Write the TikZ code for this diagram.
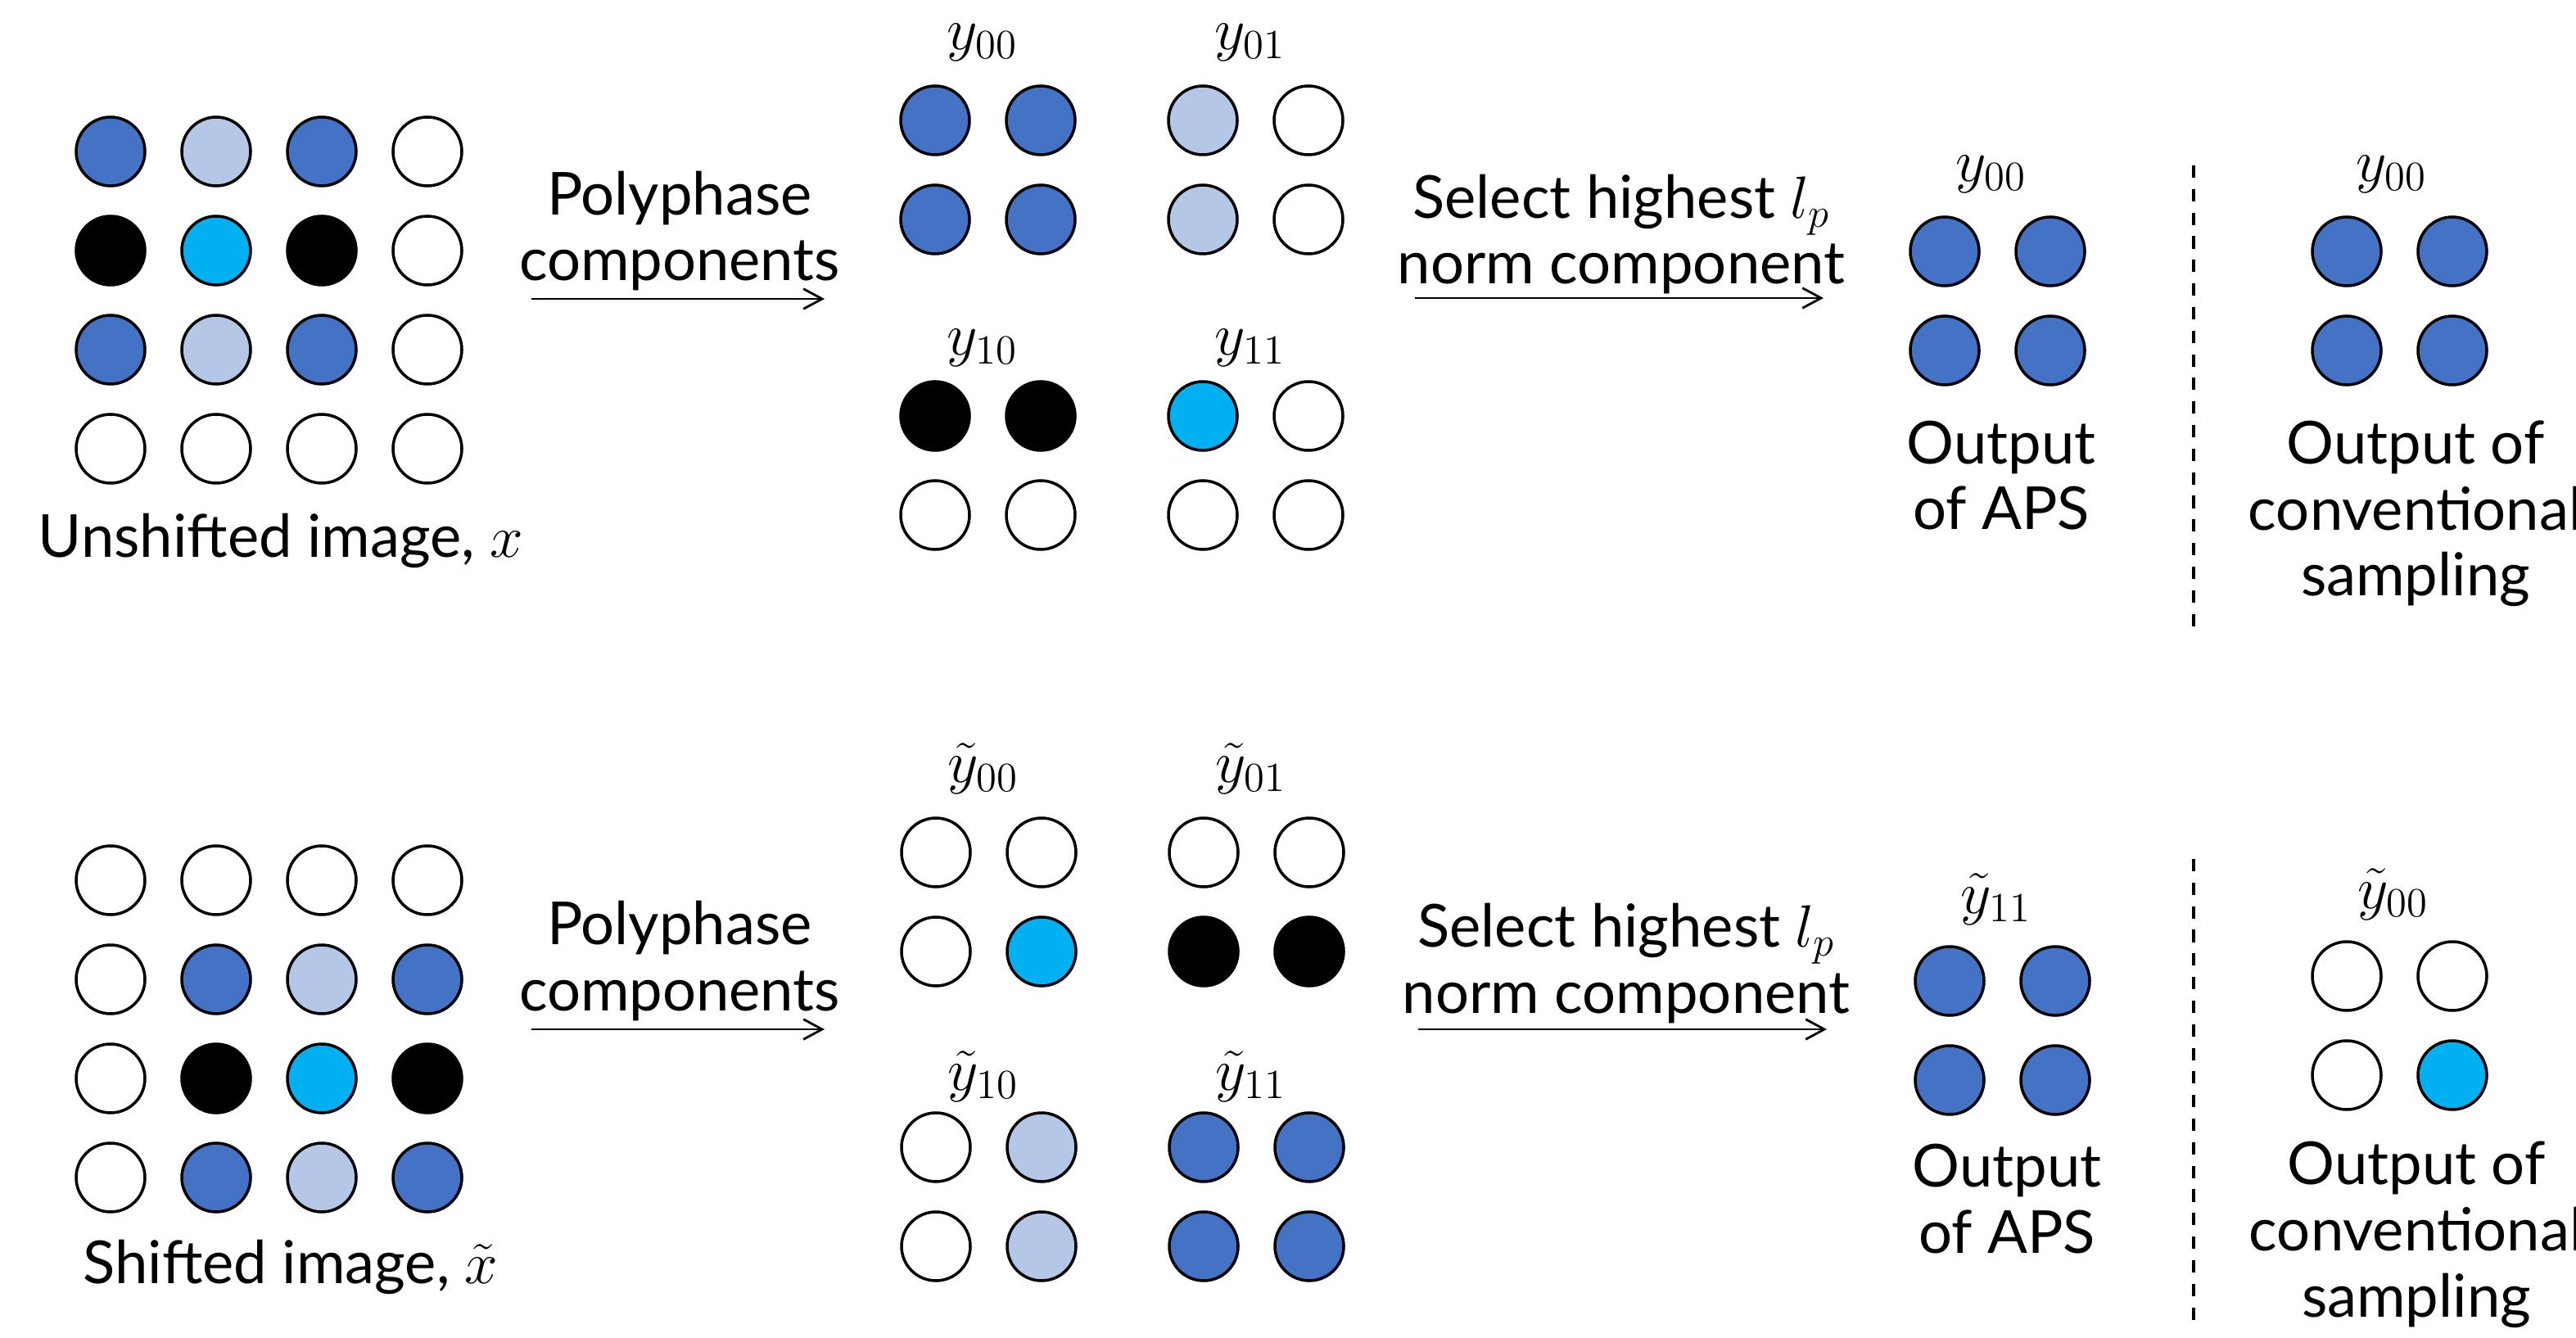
\documentclass[tikz,border=0pt]{standalone}
\usepackage{fontspec}
\setmainfont{Lato}
\usetikzlibrary{arrows.meta}
\definecolor{apsdark}{HTML}{4472C4}
\definecolor{apslight}{HTML}{B4C7E7}
\definecolor{apscyan}{HTML}{00B0F0}
\newcommand\cellW{1.29}
\newcommand\cellH{1.21}
\newcommand\dotSize{0.84}
\newcommand\sepX{26.79}

%% one grid of dots, filled row by row
\newcommand\dotGrid[5]{%
  \foreach \c [count=\i from 0] in {#5}{
    \pgfmathtruncatemacro\r{div(\i,#4)}
    \pgfmathtruncatemacro\k{mod(\i,#4)}
    \node[dot, fill=\c] (#1-\r-\k) at (#2+\k*\cellW, #3-\r*\cellH) {};
  }
}

\tikzset{
  dot/.style={circle, draw=black, line width=1pt, minimum size=\dotSize cm, inner sep=0pt},
  lbl/.style={font=\fontsize{20.6}{23}\selectfont, anchor=base, align=center, inner sep=0pt},
  sym/.style={lbl, font=\fontsize{22.5}{25}\selectfont},
  flow/.style={line width=0.8pt, -{Straight Barb[length=6.5pt,width=7pt]}},
  split/.style={line width=0.9pt, dash pattern=on 4.3pt off 3.9pt}
}

\begin{document}
\begin{tikzpicture}
    \useasboundingbox (0,0) rectangle (31.46,16.33);

    %% input images
    \dotGrid{xu}{1.35}{14.48}{4}{apsdark,apslight,apsdark,white, black,apscyan,black,white, apsdark,apslight,apsdark,white, white,white,white,white}
    \dotGrid{xs}{1.35}{5.58}{4}{white,white,white,white, white,apsdark,apslight,apsdark, white,black,apscyan,black, white,apsdark,apslight,apsdark}
    \node[lbl] (capU) at (3.43,9.52) {Unshifted image, $x$};
    \node[lbl] (capS) at (3.55,0.66) {Shifted image, $\tilde{x}$};

    %% polyphase components
    \dotGrid{ya}{11.42}{14.86}{2}{apsdark,apsdark,apsdark,apsdark}
    \dotGrid{yb}{14.69}{14.86}{2}{apslight,white,apslight,white}
    \dotGrid{yc}{11.42}{11.25}{2}{black,black,white,white}
    \dotGrid{yd}{14.69}{11.25}{2}{apscyan,white,white,white}
    \dotGrid{ta}{11.43}{5.92}{2}{white,white,white,apscyan}
    \dotGrid{tb}{14.70}{5.92}{2}{white,white,black,black}
    \dotGrid{tc}{11.43}{2.32}{2}{white,apslight,white,apslight}
    \dotGrid{td}{14.70}{2.32}{2}{apsdark,apsdark,apsdark,apsdark}
    \node[sym] (nya) at (12.00,15.72) {$y_{00}$};
    \node[sym] (nyb) at (15.27,15.72) {$y_{01}$};
    \node[sym] (nyc) at (12.00,11.99) {$y_{10}$};
    \node[sym] (nyd) at (15.27,11.99) {$y_{11}$};
    \node[sym] (nta) at (12.01,6.77) {$\tilde{y}_{00}$};
    \node[sym] (ntb) at (15.28,6.77) {$\tilde{y}_{01}$};
    \node[sym] (ntc) at (12.01,3.02) {$\tilde{y}_{10}$};
    \node[sym] (ntd) at (15.28,3.02) {$\tilde{y}_{11}$};

    %% outputs
    \dotGrid{oa}{23.75}{13.26}{2}{apsdark,apsdark,apsdark,apsdark}
    \dotGrid{oc}{28.66}{13.26}{2}{apsdark,apsdark,apsdark,apsdark}
    \dotGrid{ob}{23.81}{4.35}{2}{apsdark,apsdark,apsdark,apsdark}
    \dotGrid{od}{28.66}{4.41}{2}{white,white,white,apscyan}
    \node[sym] (noa) at (24.32,14.11) {$y_{00}$};
    \node[sym] (noc) at (29.21,14.11) {$y_{00}$};
    \node[sym] (nob) at (24.38,5.18) {$\tilde{y}_{11}$};
    \node[sym] (nod) at (29.23,5.24) {$\tilde{y}_{00}$};
    \node[lbl] (apsA) at (24.44,9.86) {Output\\of APS};
    \node[lbl] (convA) at (29.50,9.05) {Output of\\conventional\\sampling};
    \node[lbl] (apsB) at (24.51,1.03) {Output\\of APS};
    \node[lbl] (convB) at (29.51,0.25) {Output of\\conventional\\sampling};

    %% add arrows for the two steps
    \coordinate (pa1) at (6.49,12.68);
    \coordinate (pb1) at (10.07,12.68);
    \coordinate (sa1) at (17.28,12.69);
    \coordinate (sb1) at (22.27,12.69);
    \coordinate (pa2) at (6.49,3.76);
    \coordinate (pb2) at (10.07,3.76);
    \coordinate (sa2) at (17.32,3.76);
    \coordinate (sb2) at (22.31,3.76);
    \node[lbl] (poly1) at (8.30,12.90) {Polyphase\\components};
    \node[lbl] (poly2) at (8.30,3.99) {Polyphase\\components};
    \node[lbl] (sel1) at (19.80,12.86) {Select highest $l_p$\\norm component};
    \node[lbl] (sel2) at (19.86,3.96) {Select highest $l_p$\\norm component};
    \draw[flow] (pa1) -- (pb1);
    \draw[flow] (sa1) -- (sb1);
    \draw[flow] (pa2) -- (pb2);
    \draw[flow] (sa2) -- (sb2);

    %% dashed separators
    \coordinate (da1) at (\sepX,14.31);
    \coordinate (db1) at (\sepX,8.58);
    \coordinate (da2) at (\sepX,5.84);
    \coordinate (db2) at (\sepX,0.09);
    \draw[split] (da1) -- (db1);
    \draw[split] (da2) -- (db2);

  \end{tikzpicture}
\end{document}
